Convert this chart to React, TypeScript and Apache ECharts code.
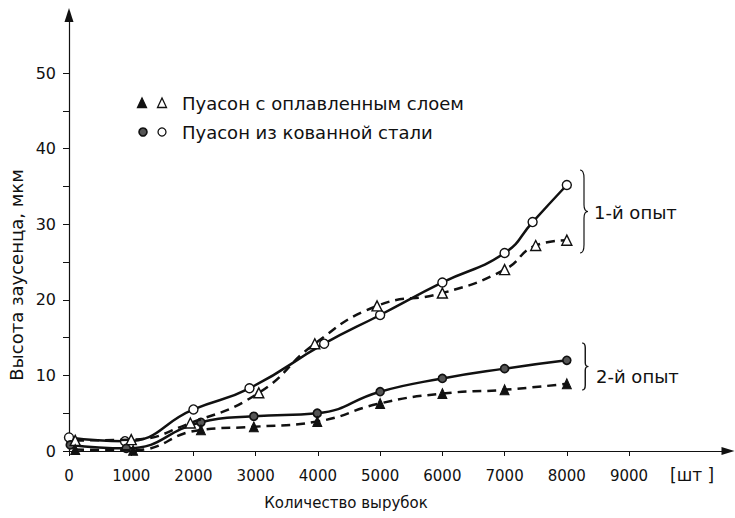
import React, { useEffect, useRef } from "react";
import * as echarts from "echarts";

// ---- data ----
const xTickValues = [0, 1000, 2000, 3000, 4000, 5000, 6000, 7000, 8000, 9000];
const yTickValues = [0, 10, 20, 30, 40, 50];
const yMinorTickValues = [0, 5, 10, 15, 20, 25, 30, 35, 40, 45, 50];

// 1-й опыт, пуасон из кованной стали (open circles, solid)
const exp1SteelX = [0, 900, 2000, 2900, 4100, 5000, 6000, 7000, 7450, 8000];
const exp1SteelY = [1.8, 1.3, 5.5, 8.3, 14.2, 18.0, 22.3, 26.2, 30.3, 35.2];
// 1-й опыт, пуасон с оплавленным слоем (open triangles, dashed)
const exp1MeltX = [100, 1000, 1950, 3050, 3950, 4950, 6000, 7000, 7500, 8000];
const exp1MeltY = [1.4, 1.5, 3.7, 7.7, 14.2, 19.2, 20.9, 24.0, 27.2, 27.9];
// 2-й опыт, пуасон из кованной стали (filled circles, solid)
const exp2SteelX = [20, 920, 2120, 2970, 3990, 5000, 6000, 7000, 8000];
const exp2SteelY = [0.8, 0.35, 3.8, 4.6, 5.0, 7.85, 9.6, 10.9, 12.0];
// 2-й опыт, пуасон с оплавленным слоем (filled triangles, dashed)
const exp2MeltX = [100, 1030, 2120, 2970, 3990, 5000, 6000, 7000, 8000];
const exp2MeltY = [0.2, 0.1, 2.8, 3.2, 3.9, 6.3, 7.6, 8.1, 8.9];

const legendMelt = "Пуасон с оплавленным слоем";
const legendSteel = "Пуасон из кованной стали";
const exp1Label = "1-й опыт";
const exp2Label = "2-й опыт";
const xTitle = "Количество вырубок";
const yTitle = "Высота заусенца, мкм";
const xUnit = "[шт ]";

const BRACE =
  "M0,0 C4,0 5,3 5,10 L5,42 C5,47 7,50 10,50 C7,50 5,53 5,58 L5,90 C5,97 4,100 0,100";

const zip = (xs: number[], ys: number[]) => xs.map((x, i) => [x, ys[i]]);

const INK = "#111";
const FONT = "DejaVu Sans";

export default function App() {
  const ref = useRef<HTMLDivElement>(null);
  useEffect(() => {
    if (!ref.current) return;
    try {
      echarts.graphic.registerShape("brace", echarts.graphic.extendPath(BRACE, {}));
    } catch (e) {}
    const chart = echarts.init(ref.current, undefined, { renderer: "svg" });

    const tri = (cx: number, cy: number, fill: string) => ({
      type: "polygon",
      shape: { points: [[cx - 4.5, cy + 4.5], [cx + 4.5, cy + 4.5], [cx, cy - 5]] },
      style: { fill, stroke: INK, lineWidth: 1.3 },
    });
    const txt = (x: number, y: number, text: string, fontSize: number, extra: any = {}) => ({
      type: "text",
      x,
      y,
      ...extra,
      style: { text, fontSize, fontFamily: FONT, fill: INK, verticalAlign: "middle", ...(extra.style || {}) },
    });

    chart.setOption({
      animation: false,
      backgroundColor: "#fff",
      grid: { left: 69, right: 7, top: 15, bottom: 67, containLabel: false },
      xAxis: {
        type: "value",
        min: 0,
        max: 10590,
        splitLine: { show: false },
        axisLine: {
          show: true,
          symbol: ["none", "triangle"],
          symbolSize: [8, 13],
          lineStyle: { color: INK, width: 1.2 },
        },
        axisTick: { show: true, customValues: xTickValues, length: 5, lineStyle: { color: INK } },
        axisLabel: {
          customValues: xTickValues,
          formatter: (v: number) => String(v),
          margin: 17,
          fontSize: 15,
          fontFamily: FONT,
          color: INK,
        },
      },
      yAxis: {
        type: "value",
        min: 0,
        max: 57.7,
        splitLine: { show: false },
        axisLine: {
          show: true,
          symbol: ["none", "triangle"],
          symbolSize: [9, 14],
          lineStyle: { color: INK, width: 1.2 },
        },
        axisTick: { show: true, customValues: yMinorTickValues, length: 6, lineStyle: { color: INK } },
        axisLabel: {
          customValues: yTickValues,
          formatter: (v: number) => String(v),
          margin: 13,
          fontSize: 16,
          fontFamily: FONT,
          color: INK,
        },
      },
      series: [
        {
          type: "line",
          name: "exp1 steel",
          data: zip(exp1SteelX, exp1SteelY),
          smooth: 0.5,
          symbol: "circle",
          symbolSize: 9,
          lineStyle: { color: INK, width: 2.5, type: "solid" },
          itemStyle: { color: "#fff", borderColor: INK, borderWidth: 1.4 },
          z: 3,
        },
        {
          type: "line",
          name: "exp1 melt",
          data: zip(exp1MeltX, exp1MeltY),
          smooth: 0.5,
          symbol: "triangle",
          symbolSize: [10, 10],
          lineStyle: { color: INK, width: 2.5, type: [9, 6] },
          itemStyle: { color: "#fff", borderColor: INK, borderWidth: 1.4 },
          z: 4,
        },
        {
          type: "line",
          name: "exp2 steel",
          data: zip(exp2SteelX, exp2SteelY),
          smooth: 0.5,
          symbol: "circle",
          symbolSize: 8,
          lineStyle: { color: INK, width: 2.5, type: "solid" },
          itemStyle: { color: "#555", borderColor: INK, borderWidth: 1.6 },
          z: 3,
        },
        {
          type: "line",
          name: "exp2 melt",
          data: zip(exp2MeltX, exp2MeltY),
          smooth: 0.5,
          symbol: "triangle",
          symbolSize: [9, 10],
          lineStyle: { color: INK, width: 2.5, type: [9, 6] },
          itemStyle: { color: INK, borderColor: INK, borderWidth: 1 },
          z: 4,
        },
      ],
      graphic: [
        // legend
        tri(142, 103, INK),
        tri(162, 103, "#fff"),
        txt(182, 103, legendMelt, 18),
        {
          type: "circle",
          shape: { cx: 143, cy: 132, r: 4 },
          style: { fill: "#555", stroke: INK, lineWidth: 1.6 },
        },
        {
          type: "circle",
          shape: { cx: 162, cy: 132, r: 4 },
          style: { fill: "#fff", stroke: INK, lineWidth: 1.3 },
        },
        txt(182, 132, legendSteel, 18),
        // braces
        {
          type: "brace",
          x: 580,
          y: 170,
          scaleX: 0.8,
          scaleY: 0.83,
          style: { fill: "none", stroke: INK, lineWidth: 1.2, strokeNoScale: true },
        },
        {
          type: "brace",
          x: 582,
          y: 343,
          scaleX: 0.65,
          scaleY: 0.47,
          style: { fill: "none", stroke: INK, lineWidth: 1.2, strokeNoScale: true },
        },
        txt(594, 212, exp1Label, 18),
        txt(596, 376, exp2Label, 18),
        // axis titles
        txt(346, 503, xTitle, 15, { style: { align: "center" } }),
        txt(16, 275, yTitle, 18, { rotation: Math.PI / 2, style: { align: "center" } }),
        txt(670, 475, xUnit, 17),
      ],
    });
    return () => chart.dispose();
  }, []);
  return (
    <div
      ref={ref}
      style={{ position: "fixed", left: 0, top: 0, width: 735, height: 518, background: "#fff" }}
    />
  );
}
